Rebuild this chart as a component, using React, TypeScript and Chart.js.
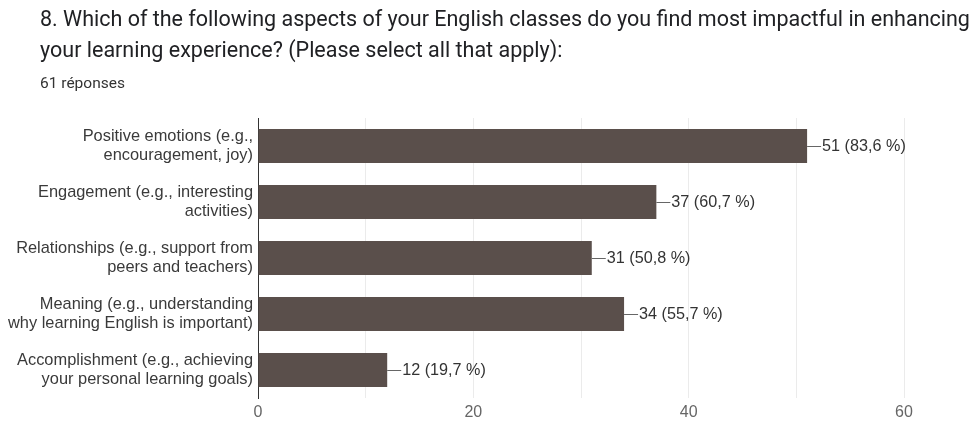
import React, { useEffect, useRef } from "react";
import { Chart, registerables } from "chart.js";

Chart.register(...registerables);

const titleLines = [
  "8. Which of the following aspects of your English classes do you find most impactful in enhancing",
  "your learning experience? (Please select all that apply):",
];
const subtitle = "61 réponses";

const categories: string[][] = [
  ["Positive emotions (e.g.,", "encouragement, joy)"],
  ["Engagement (e.g., interesting", "activities)"],
  ["Relationships (e.g., support from", "peers and teachers)"],
  ["Meaning (e.g., understanding", "why learning English is important)"],
  ["Accomplishment (e.g., achieving", "your personal learning goals)"],
];
const counts = [51, 37, 31, 34, 12];
const percents = ["83,6 %", "60,7 %", "50,8 %", "55,7 %", "19,7 %"];
const xTicksShown = [0, 20, 40, 60];

const TITLE_FONT = "Roboto, 'Liberation Sans', Arial, sans-serif";
const FONT = "'Liberation Sans', Arial, sans-serif";

const valueLabels = {
  id: "valueLabels",
  afterDatasetsDraw(chart: any) {
    const ctx = chart.ctx;
    const meta = chart.getDatasetMeta(0);
    ctx.save();
    ctx.font = `16.2px ${FONT}`;
    ctx.fillStyle = "#333333";
    ctx.strokeStyle = "#666666";
    ctx.lineWidth = 1;
    ctx.textBaseline = "middle";
    meta.data.forEach((bar: any, i: number) => {
      const x = bar.x;
      const y = Math.round(bar.y) + 0.5;
      ctx.beginPath();
      ctx.moveTo(x, y);
      ctx.lineTo(x + 14, y);
      ctx.stroke();
      ctx.fillText(`${counts[i]} (${percents[i]})`, x + 15, bar.y + 1);
    });
    ctx.restore();
  },
};

export default function App() {
  const ref = useRef<HTMLCanvasElement | null>(null);
  useEffect(() => {
    document.body.style.margin = "0";
    if (!ref.current) return;
    const chart = new Chart(ref.current, {
      type: "bar",
      data: {
        labels: categories,
        datasets: [
          {
            data: counts,
            backgroundColor: "#5a4f4b",
            borderWidth: 0,
            barPercentage: 0.61,
            categoryPercentage: 1,
          },
        ],
      },
      options: {
        indexAxis: "y",
        animation: false,
        responsive: false,
        maintainAspectRatio: false,
        layout: { padding: { top: 118, right: 71, bottom: 0, left: 0 } },
        plugins: { legend: { display: false }, tooltip: { enabled: false }, title: { display: false } },
        scales: {
          x: {
            min: 0,
            max: 60,
            ticks: {
              stepSize: 10,
              padding: 5,
              color: "#666666",
              font: { family: FONT, size: 16, lineHeight: 1.2 },
              callback: (v: any) => (xTicksShown.includes(Number(v)) ? String(v) : ""),
            },
            grid: { color: "#ebebeb", drawTicks: false },
            border: { display: false },
            afterFit: (s: any) => {
              s.height = 29;
            },
          },
          y: {
            ticks: {
              padding: 5,
              color: "#3a3a3a",
              font: { family: FONT, size: 16.4, lineHeight: 1.17 },
            },
            grid: { display: false, drawTicks: false },
            border: { display: true, color: "#333333", width: 1 },
            afterFit: (s: any) => {
              s.width = 258;
            },
          },
        },
      },
      plugins: [valueLabels],
    });
    return () => chart.destroy();
  }, []);

  return (
    <div style={{ position: "relative", width: 975, height: 427, background: "#fff", overflow: "hidden" }}>
      <canvas ref={ref} width={975} height={427} style={{ position: "absolute", left: 0, top: 0 }} />
      <div
        style={{
          position: "absolute",
          left: 40,
          top: 3,
          fontFamily: TITLE_FONT,
          fontSize: 21.5,
          lineHeight: "31px",
          color: "#202124",
          whiteSpace: "nowrap",
        }}
      >
        {titleLines.map((t, i) => (
          <div key={i}>{t}</div>
        ))}
      </div>
      <div
        style={{
          position: "absolute",
          left: 40,
          top: 73,
          fontFamily: TITLE_FONT,
          fontSize: 15.5,
          lineHeight: "20px",
          color: "#333",
          whiteSpace: "nowrap",
        }}
      >
        {subtitle}
      </div>
    </div>
  );
}
